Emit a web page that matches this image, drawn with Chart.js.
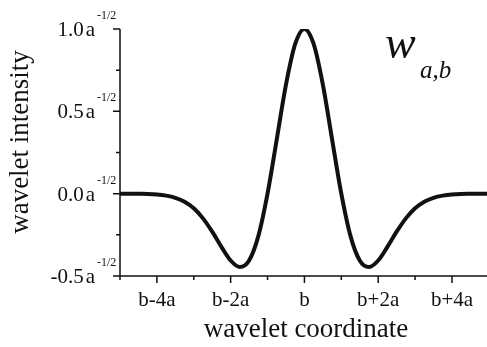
<!DOCTYPE html>
<html lang="en">
<head>
    <meta charset="UTF-8">
    <title>Wavelet</title>
    <script src="https://cdn.jsdelivr.net/npm/chart.js"></script>
    <style>
        body {
            margin: 0;
            background: white;
        }
        #box {
            width: 487px;
            height: 347px;
        }
    </style>
</head>
<body>
    <div id="box"><canvas id="grafico" width="487" height="347"></canvas></div>

    <script>
        // wavelet coordinate in units of a, centred on b
        const coord = [-5, -4.75, -4.5, -4.25, -4, -3.75, -3.5, -3.25, -3, -2.75, -2.5, -2.25, -2, -1.75, -1.5, -1.25, -1, -0.75, -0.5, -0.25,
                       0, 0.25, 0.5, 0.75, 1, 1.25, 1.5, 1.75, 2, 2.25, 2.5, 2.75, 3, 3.25, 3.5, 3.75, 4, 4.25, 4.5, 4.75, 5];
        const intensity = [0, 0, -0.001, -0.002, -0.005, -0.012, -0.025, -0.049, -0.089, -0.150, -0.231, -0.323, -0.406, -0.446, -0.406, -0.258, 0, 0.330, 0.662, 0.909,
                           1, 0.909, 0.662, 0.330, 0, -0.258, -0.406, -0.446, -0.406, -0.323, -0.231, -0.150, -0.089, -0.049, -0.025, -0.012, -0.005, -0.002, -0.001, 0, 0];

        const yTicks = [-0.5, 0, 0.5, 1.0];
        const yTickLabels = ['-0.5', '0.0', '0.5', '1.0'];
        const yMinor = [-0.25, 0.25, 0.75];
        const xTicks = [-4, -2, 0, 2, 4];
        const xTickLabels = ['b-4a', 'b-2a', 'b', 'b+2a', 'b+4a'];
        const xMinor = [-5, -3, -1, 1, 3];

        const serif = '"Liberation Serif", "Times New Roman", serif';

        const ejes = {
            id: 'ejes',
            afterDraw(chart) {
                const ctx = chart.ctx;
                const x = chart.scales.x, y = chart.scales.y;
                const area = chart.chartArea;
                ctx.save();
                ctx.strokeStyle = '#111';
                ctx.fillStyle = '#111';
                ctx.lineWidth = 1.5;

                // axis lines
                ctx.beginPath();
                ctx.moveTo(area.left, area.top);
                ctx.lineTo(area.left, area.bottom);
                ctx.lineTo(area.right, area.bottom);
                ctx.stroke();

                // ticks
                ctx.beginPath();
                yTicks.forEach(v => { const p = y.getPixelForValue(v); ctx.moveTo(area.left - 7, p); ctx.lineTo(area.left, p); });
                yMinor.forEach(v => { const p = y.getPixelForValue(v); ctx.moveTo(area.left - 4, p); ctx.lineTo(area.left, p); });
                xTicks.forEach(v => { const p = x.getPixelForValue(v); ctx.moveTo(p, area.bottom); ctx.lineTo(p, area.bottom + 7); });
                xMinor.forEach(v => { const p = x.getPixelForValue(v); ctx.moveTo(p, area.bottom); ctx.lineTo(p, area.bottom + 4); });
                ctx.stroke();

                // y tick labels with a^-1/2
                yTicks.forEach((v, i) => {
                    const p = y.getPixelForValue(v);
                    ctx.font = '21px ' + serif;
                    ctx.textAlign = 'right';
                    ctx.textBaseline = 'alphabetic';
                    ctx.fillText('a', area.left - 25, p + 7);
                    const aw = ctx.measureText('a').width;
                    ctx.fillText(yTickLabels[i], area.left - 27 - aw, p + 7);
                    ctx.font = '12px ' + serif;
                    ctx.textAlign = 'left';
                    ctx.fillText('-1/2', area.left - 23, p - 10);
                });

                // x tick labels
                ctx.font = '21px ' + serif;
                ctx.textAlign = 'center';
                xTicks.forEach((v, i) => {
                    ctx.fillText(xTickLabels[i], x.getPixelForValue(v), area.bottom + 30);
                });

                // axis titles
                ctx.font = '27px ' + serif;
                ctx.fillText('wavelet coordinate', 306, 337);
                ctx.save();
                ctx.translate(28, 142);
                ctx.rotate(-Math.PI / 2);
                ctx.fillText('wavelet intensity', 0, 0);
                ctx.restore();

                // w_{a,b}
                ctx.textAlign = 'left';
                ctx.font = 'italic 46px ' + serif;
                ctx.fillText('w', 385, 58);
                ctx.font = 'italic 25px ' + serif;
                ctx.fillText('a,b', 420, 78);
                ctx.restore();
            }
        };

        new Chart(document.getElementById('grafico').getContext('2d'), {
            type: 'line',
            data: {
                labels: coord,
                datasets: [{
                    data: coord.map((c, i) => ({ x: c, y: intensity[i] })),
                    borderColor: '#111',
                    borderWidth: 4,
                    pointRadius: 0,
                    cubicInterpolationMode: 'monotone',
                    fill: false
                }]
            },
            options: {
                responsive: false,
                animation: false,
                layout: { padding: { left: 120, top: 29, right: 0, bottom: 71 } },
                plugins: { legend: { display: false }, tooltip: { enabled: false } },
                scales: {
                    x: { type: 'linear', min: -5, max: 4.95, display: false },
                    y: { min: -0.5, max: 1.0, display: false }
                }
            },
            plugins: [ejes]
        });
    </script>
</body>
</html>
